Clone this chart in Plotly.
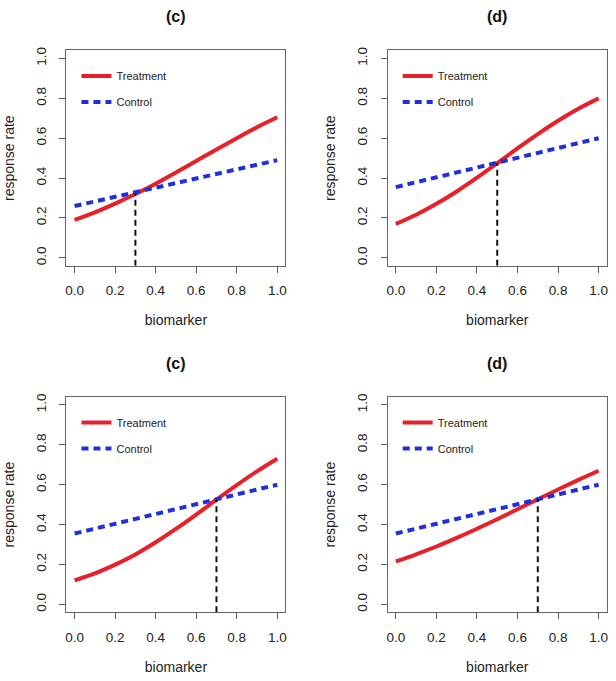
import plotly.graph_objects as go

biomarker = [0.0, 0.1, 0.2, 0.3, 0.4, 0.5, 0.6, 0.7, 0.8, 0.9, 1.0]

panel_titles = ["(c)", "(d)", "(c)", "(d)"]

treatment_c_top = [0.190, 0.228, 0.272, 0.320, 0.372, 0.428, 0.486, 0.544, 0.600, 0.655, 0.705]
control_c_top = [0.260, 0.283, 0.306, 0.329, 0.352, 0.375, 0.398, 0.421, 0.444, 0.467, 0.490]

treatment_d_top = [0.170, 0.216, 0.271, 0.333, 0.402, 0.475, 0.549, 0.621, 0.688, 0.748, 0.800]
control_d_top = [0.355, 0.3795, 0.404, 0.4285, 0.453, 0.4775, 0.502, 0.5265, 0.551, 0.5755, 0.600]

treatment_c_bottom = [0.120, 0.155, 0.199, 0.250, 0.311, 0.378, 0.450, 0.525, 0.598, 0.667, 0.730]
control_c_bottom = [0.355, 0.3795, 0.404, 0.4285, 0.453, 0.4775, 0.502, 0.5265, 0.551, 0.5755, 0.600]

treatment_d_bottom = [0.215, 0.251, 0.290, 0.333, 0.379, 0.427, 0.477, 0.527, 0.576, 0.624, 0.670]
control_d_bottom = [0.355, 0.3795, 0.404, 0.4285, 0.453, 0.4775, 0.502, 0.5265, 0.551, 0.5755, 0.600]

cutoffs = [0.3, 0.5, 0.7, 0.7]

tick_vals = [0.0, 0.2, 0.4, 0.6, 0.8, 1.0]
tick_text = ["0.0", "0.2", "0.4", "0.6", "0.8", "1.0"]

treatments = [treatment_c_top, treatment_d_top, treatment_c_bottom, treatment_d_bottom]
controls = [control_c_top, control_d_top, control_c_bottom, control_d_bottom]

W, H = 616, 681
FONT = "Liberation Sans, Arial, Helvetica, sans-serif"
RED = "#E8202A"
BLUE = "#1E2FDC"
AX_MIN, AX_MAX = -0.04, 1.04

# panel boxes in pixels: (left, right, top, bottom)
boxes = [
    (65.7, 285.3, 47.7, 264.0),
    (388.0, 607.7, 47.7, 264.0),
    (65.7, 285.3, 395.7, 612.0),
    (388.0, 607.7, 395.7, 612.0),
]

fig = go.Figure()
layout = {}
annotations = []

for i in range(4):
    n = "" if i == 0 else str(i + 1)
    xa, ya = "x" + n, "y" + n
    lg = "legend" + n
    l, r, t, b = boxes[i]
    xdom = [l / W, r / W]
    ydom = [1 - b / H, 1 - t / H]

    fig.add_trace(go.Scatter(
        x=biomarker, y=treatments[i], mode="lines", name="Treatment",
        line=dict(color=RED, width=4, shape="spline"),
        xaxis=xa, yaxis=ya, legend=lg, legendgroup="t" + n, showlegend=True,
        hoverinfo="skip"))
    fig.add_trace(go.Scatter(
        x=biomarker, y=controls[i], mode="lines", name="Control",
        line=dict(color=BLUE, width=4, dash="7px,5px"),
        xaxis=xa, yaxis=ya, legend=lg, legendgroup="c" + n, showlegend=True,
        hoverinfo="skip"))
    cx = cutoffs[i]
    cy = treatments[i][biomarker.index(cx)]
    fig.add_trace(go.Scatter(
        x=[cx, cx], y=[AX_MIN, cy], mode="lines",
        line=dict(color="#111111", width=2, dash="6px,4px"),
        xaxis=xa, yaxis=ya, showlegend=False, hoverinfo="skip"))

    axis_common = dict(
        range=[AX_MIN, AX_MAX], tickvals=tick_vals, ticktext=tick_text,
        ticks="outside", ticklen=6, tickwidth=1, tickcolor="#555555",
        showline=True, linecolor="#666666", linewidth=1.2, mirror=True,
        showgrid=False, zeroline=False,
        tickfont=dict(family=FONT, size=13.5, color="#222222"),
        title_font=dict(family=FONT, size=14, color="#222222"),
    )
    layout["xaxis" + n] = dict(
        axis_common, domain=xdom, anchor=ya,
        title=dict(text="biomarker", standoff=18),
        ticklabelstandoff=6,
    )
    layout["yaxis" + n] = dict(
        axis_common, domain=ydom, anchor=xa, tickangle=-90,
        title=dict(text="response rate", standoff=16),
        ticklabelstandoff=8,
    )
    layout[lg] = dict(
        x=(l + 10) / W, y=1 - (t + 11) / H, xanchor="left", yanchor="top",
        bgcolor="rgba(0,0,0,0)", borderwidth=0,
        font=dict(family=FONT, size=11, color="#222222"),
        tracegroupgap=7, itemwidth=30,
    )
    annotations.append(dict(
        text="<b>" + panel_titles[i] + "</b>", x=(l + r) / 2 / W,
        y=1 - (t - 34) / H, xref="paper", yref="paper",
        xanchor="center", yanchor="middle", showarrow=False,
        font=dict(family=FONT, size=16, color="#111111")))

fig.update_layout(
    **layout,
    annotations=annotations,
    width=W, height=H,
    margin=dict(l=0, r=0, t=0, b=0),
    paper_bgcolor="white", plot_bgcolor="white",
)

fig.write_html("out.html")
